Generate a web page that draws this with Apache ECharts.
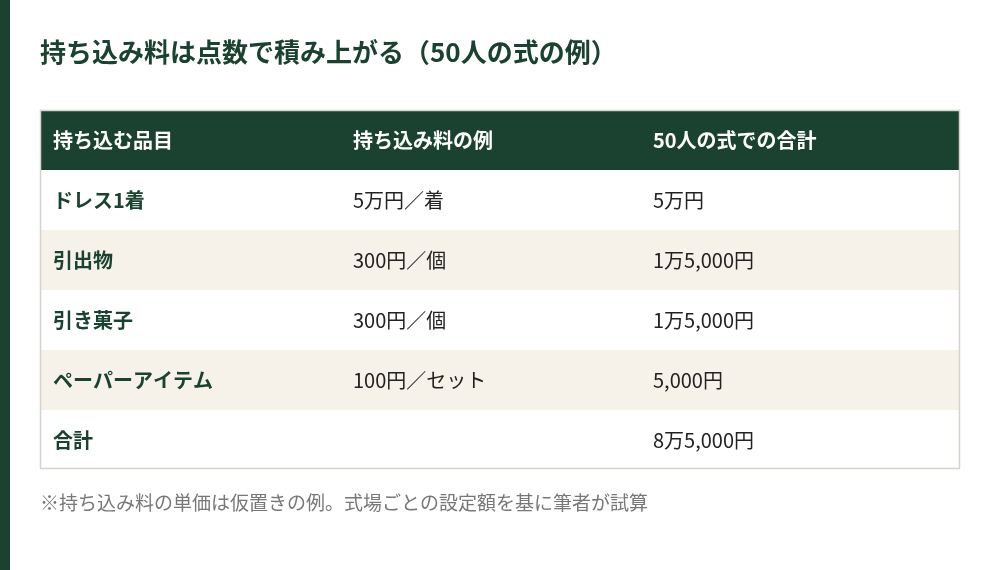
<!DOCTYPE html>
<html><head><meta charset="utf-8">
<script src="https://cdn.jsdelivr.net/npm/echarts@6/dist/echarts.min.js"></script>
<style>html,body{margin:0;background:#fff}#c{width:1000px;height:570px}</style>
</head><body><div id="c"></div>
<script>
const title = "持ち込み料は点数で積み上がる（50人の式の例）";
const headers = ["持ち込む品目", "持ち込み料の例", "50人の式での合計"];
const items = ["ドレス1着", "引出物", "引き菓子", "ペーパーアイテム", "合計"];
const unitPrices = ["5万円／着", "300円／個", "300円／個", "100円／セット", ""];
const totals = ["5万円", "1万5,000円", "1万5,000円", "5,000円", "8万5,000円"];
const note = "※持ち込み料の単価は仮置きの例。式場ごとの設定額を基に筆者が試算";

(function(){
const F = '"Noto Sans CJK JP", "Noto Sans", sans-serif';
const G = '#1b4230';
const colX = [53, 353, 653];
const T0 = 110, hH = 60, rH = 60, L = 40, W = 920;
const els = [];
els.push({type:'rect', shape:{x:0,y:0,width:10,height:570}, style:{fill:G}});
els.push({type:'text', x:40, y:52, style:{text:title, font:'bold 26px '+F, fill:G, textVerticalAlign:'middle'}});
els.push({type:'rect', shape:{x:L,y:T0,width:W,height:hH}, style:{fill:G}});
headers.forEach((h,i)=>els.push({type:'text', x:colX[i], y:T0+hH/2, style:{text:h, font:'bold 20px '+F, fill:'#fff', textVerticalAlign:'middle'}}));
items.forEach((it,r)=>{
  const y = T0+hH+r*rH;
  const h = r===items.length-1 ? 58 : rH;
  els.push({type:'rect', shape:{x:L,y:y,width:W,height:h}, style:{fill: r%2 ? '#f6f1e9' : '#fff'}});
  const vals=[it,unitPrices[r],totals[r]];
  vals.forEach((v,i)=>els.push({type:'text', x:colX[i], y:y+rH/2, style:{text:v, font:(i===0?'bold ':'')+'20px '+F, fill:i===0?G:'#222', textVerticalAlign:'middle'}}));
});
els.push({type:'rect', shape:{x:L+0.5,y:T0+0.5,width:W-1,height:hH+items.length*rH-2}, style:{fill:'none', stroke:'#d6d3cb', lineWidth:1.5}});
els.push({type:'text', x:40, y:503, style:{text:note, font:'19px '+F, fill:'#777', textVerticalAlign:'middle'}});
const chart = echarts.init(document.getElementById('c'));
chart.setOption({animation:false, graphic:{elements:els}});
})();
</script></body></html>
